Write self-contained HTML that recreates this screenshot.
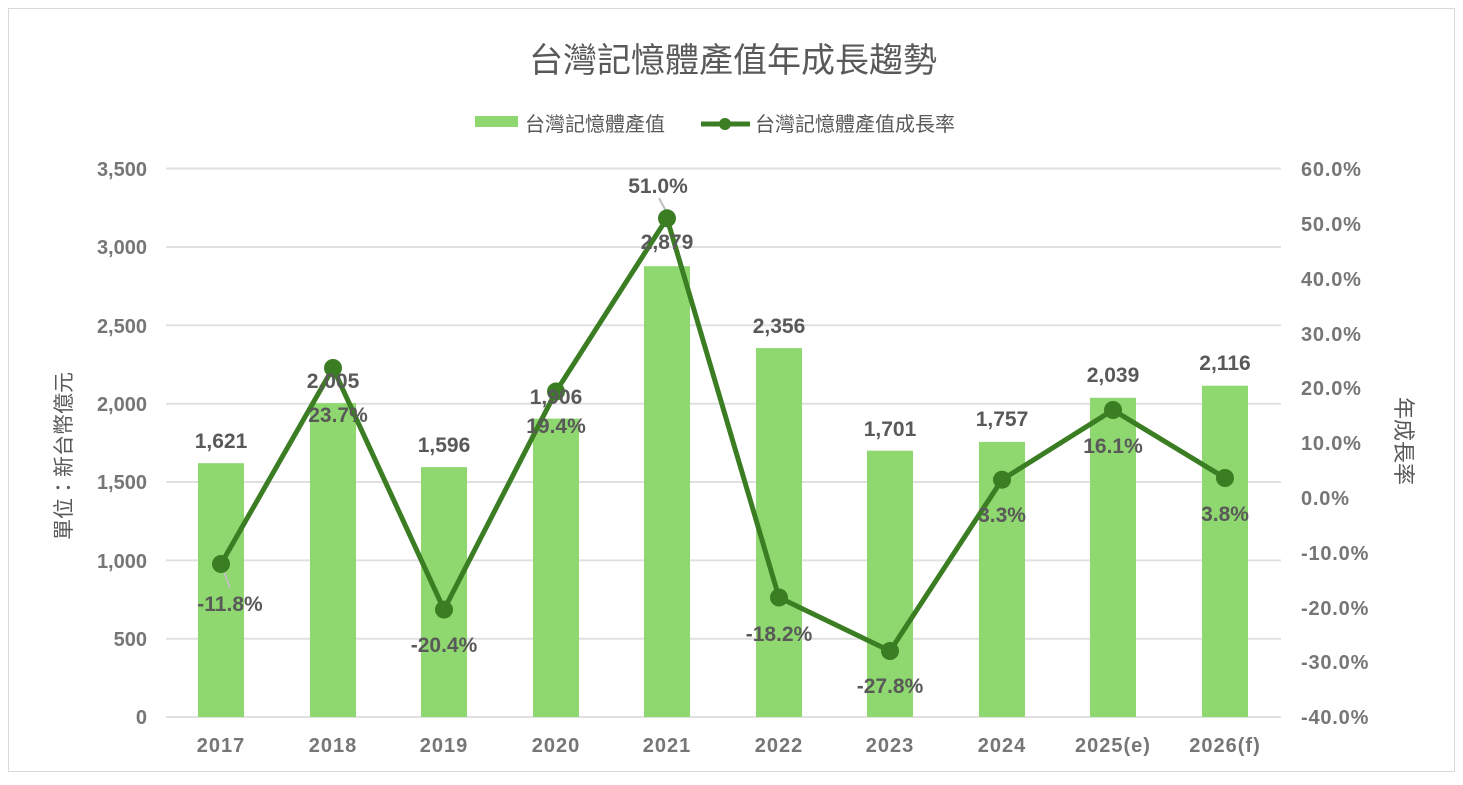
<!DOCTYPE html>
<html><head><meta charset="utf-8"><style>
body{margin:0;background:#fff}
svg text{font-family:"Liberation Sans","Noto Sans CJK TC",sans-serif}
</style></head><body>
<svg width="1463" height="780" xmlns="http://www.w3.org/2000/svg">
<rect x="8.5" y="8.5" width="1446" height="763" fill="#fff" stroke="#d9d9d9"/>
<text x="733" y="72" text-anchor="middle" font-size="34" fill="#595959">台灣記憶體產值年成長趨勢</text>
<rect x="475" y="116" width="43" height="11" fill="#8ed86f"/>
<text x="525" y="131" font-size="20" fill="#595959">台灣記憶體產值</text>
<line x1="701" y1="124" x2="750" y2="124" stroke="#3a7d22" stroke-width="5"/>
<circle cx="725" cy="124" r="6" fill="#3a7d22"/>
<text x="755" y="131" font-size="20" fill="#595959">台灣記憶體產值成長率</text>
<g stroke="#e0e0e0" stroke-width="2">
<line x1="166" y1="168.5" x2="1281" y2="168.5"/><line x1="166" y1="247" x2="1281" y2="247"/>
<line x1="166" y1="325.3" x2="1281" y2="325.3"/><line x1="166" y1="403.7" x2="1281" y2="403.7"/>
<line x1="166" y1="482" x2="1281" y2="482"/><line x1="166" y1="560.4" x2="1281" y2="560.4"/>
<line x1="166" y1="638.7" x2="1281" y2="638.7"/><line x1="166" y1="717" x2="1281" y2="717"/>
</g>
<g font-size="20" font-weight="bold" fill="#767676" text-anchor="end">
<text x="147" y="176">3,500</text><text x="147" y="254">3,000</text><text x="147" y="333">2,500</text>
<text x="147" y="411">2,000</text><text x="147" y="489">1,500</text><text x="147" y="568">1,000</text>
<text x="147" y="646">500</text><text x="147" y="724">0</text>
</g>
<g font-size="20" font-weight="bold" fill="#767676" letter-spacing="0.8">
<text x="1301" y="176">60.0%</text><text x="1301" y="231">50.0%</text><text x="1301" y="286">40.0%</text>
<text x="1301" y="341">30.0%</text><text x="1301" y="395">20.0%</text><text x="1301" y="450">10.0%</text>
<text x="1301" y="505">0.0%</text><text x="1301" y="560">-10.0%</text><text x="1301" y="615">-20.0%</text>
<text x="1301" y="669">-30.0%</text><text x="1301" y="724">-40.0%</text>
</g>
<text transform="translate(71,456) rotate(-90)" text-anchor="middle" font-size="21" fill="#595959">單位：新台幣億元</text>
<text transform="translate(1396,441) rotate(90)" text-anchor="middle" font-size="22" fill="#595959">年成長率</text>
<g fill="#8ed86f">
<rect x="198" y="463.2" width="46" height="253.8"/><rect x="310" y="403.1" width="46" height="313.9"/>
<rect x="421" y="467.1" width="46" height="249.9"/><rect x="533" y="418.6" width="46" height="298.4"/>
<rect x="644" y="266.2" width="46" height="450.8"/><rect x="756" y="348.1" width="46" height="368.9"/>
<rect x="867" y="450.7" width="46" height="266.3"/><rect x="979" y="441.9" width="46" height="275.1"/>
<rect x="1090" y="397.8" width="46" height="319.2"/><rect x="1202" y="385.7" width="46" height="331.3"/>
</g>
<g font-size="20" font-weight="bold" fill="#767676" text-anchor="middle" letter-spacing="1">
<text x="221" y="752">2017</text><text x="333" y="752">2018</text><text x="444" y="752">2019</text>
<text x="556" y="752">2020</text><text x="667" y="752">2021</text><text x="779" y="752">2022</text>
<text x="890" y="752">2023</text><text x="1002" y="752">2024</text><text x="1113" y="752">2025(e)</text>
<text x="1225" y="752">2026(f)</text>
</g>
<line x1="221" y1="564" x2="230" y2="588" stroke="#bfbfbf" stroke-width="2"/>
<line x1="659" y1="198" x2="667" y2="213" stroke="#bfbfbf" stroke-width="2"/>
<polyline fill="none" stroke="#3a7d22" stroke-width="5" stroke-linejoin="round" points="221,564 333,368 444,609.6 556,391.5 667,218.3 779,597.5 890,651 1002,479.7 1113,410 1225,478"/>
<g fill="#3a7d22">
<circle cx="221" cy="564" r="9"/><circle cx="333" cy="368" r="9"/><circle cx="444" cy="609.6" r="9"/>
<circle cx="556" cy="391.5" r="9"/><circle cx="667" cy="218.3" r="9"/><circle cx="779" cy="597.5" r="9"/>
<circle cx="890" cy="651" r="9"/><circle cx="1002" cy="479.7" r="9"/><circle cx="1113" cy="410" r="9"/>
<circle cx="1225" cy="478" r="9"/>
</g>
<g font-size="21" font-weight="bold" fill="#595959" text-anchor="middle">
<text x="221" y="448">1,621</text><text x="333" y="388">2,005</text><text x="444" y="452">1,596</text>
<text x="556" y="404">1,906</text><text x="667" y="249">2,879</text><text x="779" y="333">2,356</text>
<text x="890" y="436">1,701</text><text x="1002" y="426">1,757</text><text x="1113" y="382">2,039</text>
<text x="1225" y="370">2,116</text>
<text x="230" y="611">-11.8%</text><text x="338" y="422">23.7%</text><text x="444" y="652">-20.4%</text>
<text x="556" y="433">19.4%</text><text x="658" y="193">51.0%</text><text x="779" y="641">-18.2%</text>
<text x="890" y="693">-27.8%</text><text x="1002" y="522">3.3%</text><text x="1113" y="453">16.1%</text>
<text x="1225" y="521">3.8%</text>
</g>
</svg>
</body></html>
